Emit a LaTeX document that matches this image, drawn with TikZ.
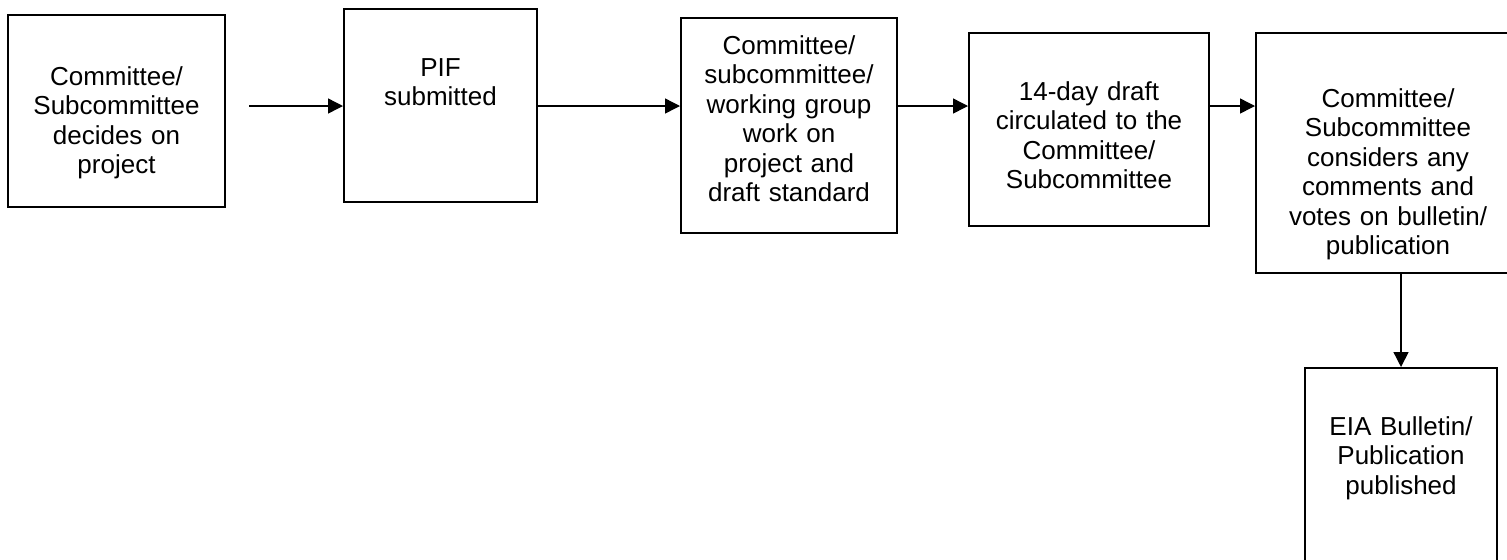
\documentclass[tikz,border=0pt]{standalone}
\usepackage{fontspec}
\setmainfont{Liberation Sans}
\usetikzlibrary{positioning,arrows.meta}

\begin{document}
\begin{tikzpicture}[x=0.5pt, y=-0.5pt,
	stage/.style={draw, line width=1pt, align=center, inner sep=0pt,
		font=\fontsize{13}{14.75}\selectfont},
	flow/.style={line width=0.7pt, -{Triangle[length=7.5pt, width=7.5pt]}}
]

\useasboundingbox (0, 0) rectangle (1507, 559);
\clip (0, 0) rectangle (1507, 559);

% Arrow row
\coordinate (row) at (0, 106);

% Committee decides
\node [stage,
	text width=108.5pt,
	text height=35pt,
	text depth=61pt
] (decide) at (116.5, 111) {
Committee/\\Subcommittee\\decides on\\project
};

% PIF submitted
\node [stage,
	text width=96.5pt,
	text height=33.5pt,
	text depth=63pt
] (pif) at (440.5, 105.5) {
PIF\\submitted
};

% Working group
\node [stage,
	text width=108pt,
	text height=18pt,
	text depth=89.5pt
] (work) at (789, 125.5) {
Committee/\\subcommittee/\\working group\\work on\\project and\\draft standard
};

% 14-day draft
\node [stage,
	text width=120pt,
	text height=33.5pt,
	text depth=63pt
] (draft) at (1089, 129.5) {
14-day draft\\circulated to the\\Committee/\\Subcommittee
};

% Comments and vote
\node [stage,
	text width=132pt,
	text height=37pt,
	text depth=83pt
] (review) at (1388, 153) {
Committee/\\Subcommittee\\considers any\\comments and\\votes on bulletin/\\publication
};

% Published
\node [stage,
	text width=96pt,
	text height=33.5pt,
	text depth=82.5pt
] (publish) at (1401, 484) {
EIA Bulletin/\\Publication\\published
};


% Arrows
\draw[flow, shorten <=11.5pt] (decide.east |- row) -- (pif.west |- row);
\draw[flow] (pif.east |- row) -- (work.west |- row);
\draw[flow] (work.east |- row) -- (draft.west |- row);
\draw[flow] (draft.east |- row) -- (review.west |- row);
\draw[flow] (review.south -| publish.north) -- (publish.north);

\end{tikzpicture}
\end{document}
